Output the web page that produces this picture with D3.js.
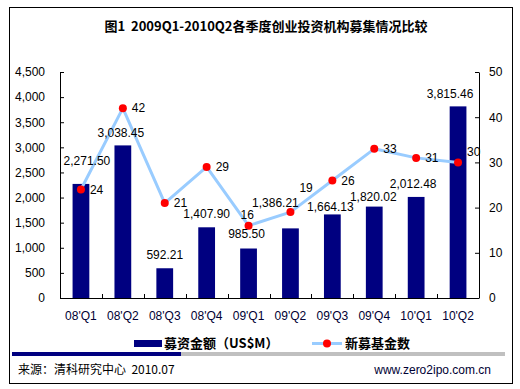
<!DOCTYPE html>
<html>
<head>
<meta charset="UTF-8">
<script src="https://cdn.jsdelivr.net/npm/d3@7"></script>
<style>
    body { margin: 0; background: #ffffff; }
    svg { display: block; }
    text { font-family: "Liberation Sans", Arial, sans-serif; white-space: pre; }
    .cjk { font-family: "Noto Sans CJK SC", "Liberation Sans", sans-serif; }
</style>
</head>
<body>
<svg id="svg" width="520" height="389"></svg>
<script>
// data
var quarters = ["08'Q1", "08'Q2", "08'Q3", "08'Q4", "09'Q1", "09'Q2", "09'Q3", "09'Q4", "10'Q1", "10'Q2"];
var amounts = [2271.50, 3038.45, 592.21, 1407.90, 985.50, 1386.21, 1664.13, 1820.02, 2012.48, 3815.46];
var fundCounts = [24, 42, 21, 29, 16, 19, 26, 33, 31, 30];
var leftTicks = [0, 500, 1000, 1500, 2000, 2500, 3000, 3500, 4000, 4500];
var rightTicks = [0, 10, 20, 30, 40, 50];

// label nudges (dx, dy), labels were hand-moved in the original
var barLabelNudge = [[6, -10], [-2, 0], [0, 0], [0, 0], [-2, -2], [-15, -13], [-2, 5], [-1, 3], [-3, 0], [-8, 0]];
var lineLabelNudge = [[0, 0], [0, 0], [0, 0], [0, 0], [-17, -11], [0, -24], [0, 0], [0, 0], [0, 0], [0, -11]];

var svg = d3.select("#svg");
var plot = {left: 60, right: 479, top: 72, bottom: 298};

// outer frame
svg.append("rect").attr("x", 9.5).attr("y", 7.5).attr("width", 503).attr("height", 376)
    .attr("fill", "none").attr("stroke", "#000").attr("stroke-width", 1);

// title
svg.append("text").attr("class", "cjk").attr("x", 266).attr("y", 31)
    .attr("text-anchor", "middle").attr("font-size", 13).attr("font-weight", "bold")
    .text("图1  2009Q1-2010Q2各季度创业投资机构募集情况比较");

var x = d3.scaleBand().domain(quarters).range([plot.left, plot.right]).paddingInner(0.6).paddingOuter(0.3);
var xc = function(i){ return x(quarters[i]) + x.bandwidth() / 2; };
var yL = d3.scaleLinear().domain([0, 4500]).range([plot.bottom, plot.top]);
var yR = d3.scaleLinear().domain([0, 50]).range([plot.bottom, plot.top]);

// bars
svg.append("g").selectAll("rect").data(amounts).enter().append("rect")
    .attr("x", function(d, i){ return x(quarters[i]); })
    .attr("y", function(d){ return yL(d); })
    .attr("width", x.bandwidth())
    .attr("height", function(d){ return plot.bottom - yL(d); })
    .attr("fill", "#000080");

// axes
var leftAxis = svg.append("g").attr("transform", "translate(" + plot.left + ",0)")
    .call(d3.axisLeft(yL).tickValues(leftTicks).tickSizeInner(-4).tickSizeOuter(0).tickPadding(15)
        .tickFormat(d3.format(",")));
var rightAxis = svg.append("g").attr("transform", "translate(" + plot.right + ",0)")
    .call(d3.axisRight(yR).tickValues(rightTicks).tickSizeInner(-4).tickSizeOuter(0).tickPadding(10));
[leftAxis, rightAxis].forEach(function(a){
    a.selectAll("text").attr("font-size", 12).attr("fill", "#000").attr("font-family", "Liberation Sans, Arial");
    a.selectAll("line, path").attr("stroke", "#000");
});

// x axis baseline + inward ticks on band edges
var step = x.step();
var xg = svg.append("g");
xg.append("line").attr("x1", plot.left).attr("x2", plot.right).attr("y1", plot.bottom + 0.5).attr("y2", plot.bottom + 0.5)
    .attr("stroke", "#000");
xg.selectAll("line.t").data(d3.range(quarters.length + 1)).enter().append("line")
    .attr("class", "t")
    .attr("x1", function(i){ return Math.round(plot.left + i * step) + 0.5; })
    .attr("x2", function(i){ return Math.round(plot.left + i * step) + 0.5; })
    .attr("y1", plot.bottom).attr("y2", plot.bottom - 4).attr("stroke", "#000");
xg.selectAll("text").data(quarters).enter().append("text")
    .attr("x", function(d, i){ return xc(i); }).attr("y", 320)
    .attr("text-anchor", "middle").attr("font-size", 12).attr("fill", "#000033")
    .text(function(d){ return d; });

// line series
var line = d3.line().x(function(d, i){ return xc(i); }).y(function(d){ return yR(d); });
svg.append("path").datum(fundCounts).attr("d", line)
    .attr("fill", "none").attr("stroke", "#99ccff").attr("stroke-width", 3).attr("stroke-linejoin", "round");
svg.append("g").selectAll("circle").data(fundCounts).enter().append("circle")
    .attr("cx", function(d, i){ return xc(i); }).attr("cy", function(d){ return yR(d); })
    .attr("r", 4).attr("fill", "#ff0000");

// bar value labels
svg.append("g").selectAll("text").data(amounts).enter().append("text")
    .attr("x", function(d, i){ return xc(i) + barLabelNudge[i][0]; })
    .attr("y", function(d, i){ return yL(d) - 13 + barLabelNudge[i][1]; })
    .attr("dy", "0.35em").attr("text-anchor", "middle").attr("font-size", 12).attr("fill", "#000")
    .text(function(d){ return d3.format(",.2f")(d); });

// line value labels
svg.append("g").selectAll("text").data(fundCounts).enter().append("text")
    .attr("x", function(d, i){ return xc(i) + 9 + lineLabelNudge[i][0]; })
    .attr("y", function(d, i){ return yR(d) + lineLabelNudge[i][1]; })
    .attr("dy", "0.35em").attr("font-size", 12).attr("fill", "#000")
    .text(function(d){ return d; });

// legend
var lg = svg.append("g");
lg.append("rect").attr("x", 134).attr("y", 340).attr("width", 28).attr("height", 7).attr("fill", "#000080");
lg.append("text").attr("class", "cjk").attr("x", 164).attr("y", 348).attr("font-size", 13).attr("font-weight", "bold")
    .text("募资金额（US$M）");
lg.append("line").attr("x1", 312).attr("x2", 342).attr("y1", 343.5).attr("y2", 343.5)
    .attr("stroke", "#99ccff").attr("stroke-width", 3);
lg.append("circle").attr("cx", 327).attr("cy", 343.5).attr("r", 4).attr("fill", "#ff0000");
lg.append("text").attr("class", "cjk").attr("x", 345).attr("y", 348).attr("font-size", 13).attr("font-weight", "bold")
    .text("新募基金数");

// footer band
svg.append("rect").attr("x", 12).attr("y", 352).attr("width", 169).attr("height", 4).attr("fill", "#000080");
svg.append("rect").attr("x", 181).attr("y", 352).attr("width", 324).attr("height", 4).attr("fill", "#c0c0c0");
svg.append("text").attr("class", "cjk").attr("x", 18).attr("y", 374).attr("font-size", 12)
    .text("来源：清科研究中心  2010.07");
svg.append("text").attr("x", 491).attr("y", 374).attr("text-anchor", "end").attr("font-size", 12).attr("fill", "#000033")
    .text("www.zero2ipo.com.cn");
</script>
</body>
</html>
